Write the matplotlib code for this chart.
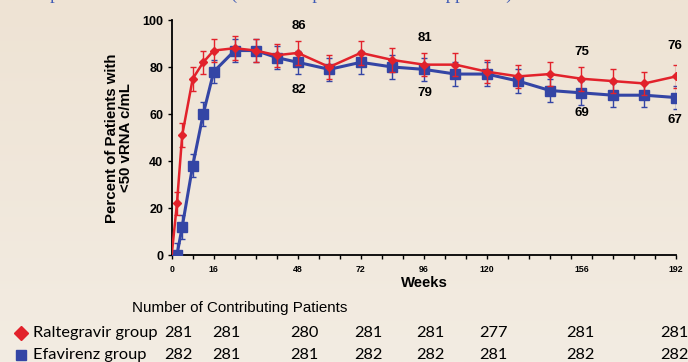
import numpy as np
import matplotlib
matplotlib.use("Agg")
import matplotlib.pyplot as plt
from matplotlib.lines import Line2D

# data
weeks = [0, 2, 4, 8, 12, 16, 24, 32, 40, 48, 60, 72, 84, 96, 108, 120, 132, 144, 156, 168, 180, 192]
ral = [0, 22, 51, 75, 82, 87, 88, 87, 85, 86, 80, 86, 83, 81, 81, 78, 76, 77, 75, 74, 73, 76]
efv = [0, 0, 12, 38, 60, 78, 87, 87, 84, 82, 79, 82, 80, 79, 77, 77, 74, 70, 69, 68, 68, 67]
ral_err = [0, 5, 5, 5, 5, 5, 5, 5, 5, 5, 5, 5, 5, 5, 5, 5, 5, 5, 5, 5, 5, 5]
efv_err = [0, 5, 5, 5, 5, 5, 5, 5, 5, 5, 5, 5, 5, 5, 5, 5, 5, 5, 5, 5, 5, 5]

tick_weeks = [0, 16, 48, 72, 96, 120, 156, 192]

# labelled values (week, value)
ral_labels = [(48, 86), (96, 81), (156, 75), (192, 76)]
efv_labels = [(48, 82), (96, 79), (156, 69), (192, 67)]

groups = ["Raltegravir group", "Efavirenz group"]
ral_n = [281, 281, 280, 281, 281, 277, 281, 281]
efv_n = [282, 281, 281, 282, 282, 281, 282, 282]

RED = "#E2222B"
BLUE = "#3445A5"

W, H = 688, 362
fig = plt.figure(figsize=(W / 100, H / 100), dpi=100)

# soft beige background, a bit darker at the top
bg = fig.add_axes([0, 0, 1, 1], zorder=-10)
top = np.array(matplotlib.colors.to_rgb("#EEE3D4"))
bot = np.array(matplotlib.colors.to_rgb("#F3ECE2"))
t = np.linspace(0, 1, 256)[:, None, None]
grad = top * (1 - t) + bot * t
bg.imshow(np.repeat(grad, 2, axis=1), aspect="auto", extent=[0, 1, 0, 1])
bg.axis("off")

# title sits above the slide crop, only its descenders show
fig.text(22 / W, 1 + 1.5 / H, "Response Rates Over Time (Non-Completer = Failure Approach)",
         family="Liberation Serif", fontsize=13.5, color="#3F5BB5", va="baseline")

ax = fig.add_axes([171.7 / W, 1 - 255 / H, (676 - 171.7) / W, (255 - 20) / H])
ax.set_facecolor("none")

# week 0 has no marker
ax.plot(weeks, efv, color=BLUE, lw=2.2, zorder=3)
ax.errorbar(weeks[1:], efv[1:], yerr=efv_err[1:], fmt="s", color=BLUE, ms=6.5,
            ecolor=BLUE, elinewidth=1, capsize=2.5, capthick=1, zorder=4)
ax.plot(weeks, ral, color=RED, lw=1.8, zorder=5)
ax.errorbar(weeks[1:], ral[1:], yerr=ral_err[1:], fmt="D", color=RED, ms=4.5,
            ecolor=RED, elinewidth=1, capsize=2.5, capthick=1, zorder=6)

# label offsets in points (placement only)
above_off = [(1, 19.5), (0.5, 19), (0, 19.5), (-0.5, 22)]
below_off = [(1, -20), (0.5, -17), (0, -14.5), (-0.5, -16.5)]
for (wk, v), off in zip(ral_labels, above_off):
    ax.annotate(str(v), (wk, v), xytext=off, textcoords="offset points",
                ha="center", va="center", fontsize=9.5, fontweight="bold",
                family="Liberation Sans", annotation_clip=False)
for (wk, v), off in zip(efv_labels, below_off):
    ax.annotate(str(v), (wk, v), xytext=off, textcoords="offset points",
                ha="center", va="center", fontsize=9.5, fontweight="bold",
                family="Liberation Sans", annotation_clip=False)

ax.set_xlim(0, 192)
ax.set_ylim(0, 100)
for s in ["top", "right"]:
    ax.spines[s].set_visible(False)
for s in ["left", "bottom"]:
    ax.spines[s].set_linewidth(1.3)

# labels as major ticks (no mark), tick marks every 8 weeks as minor ticks
ax.xaxis.remove_overlapping_locs = False
ax.set_xticks(tick_weeks)
ax.set_xticklabels([str(w) for w in tick_weeks], fontsize=6.3,
                   fontweight="bold", family="Liberation Sans")
ax.set_xticks(range(0, 193, 8), minor=True)
ax.tick_params(axis="x", which="major", length=0, pad=7)
ax.tick_params(axis="x", which="minor", length=3, width=1)
ax.set_yticks(range(0, 101, 20))
ax.set_yticklabels([str(v) for v in range(0, 101, 20)], fontsize=9,
                   fontweight="bold", family="Liberation Sans")
ax.tick_params(axis="y", length=3, width=1, pad=3)

fig.text(424 / W, 1 - 283 / H, "Weeks", ha="center", va="center", fontsize=10.7,
         fontweight="bold", family="Liberation Sans")
fig.text(119 / W, 1 - 138 / H, "Percent of Patients with\n<50 vRNA c/mL", rotation=90,
         ha="center", va="center", multialignment="center", fontsize=10.8,
         fontweight="bold", family="Liberation Sans", linespacing=1.0)

# patient count table
fig.text(132 / W, 1 - 308 / H, "Number of Contributing Patients", fontsize=10.9,
         family="Liberation Sans", va="center")
col_px = [178, 226, 304, 368, 430, 493, 580, 674]
rows = [(333, RED, "D", 7, groups[0], ral_n), (355, BLUE, "s", 7.5, groups[1], efv_n)]
for y, c, m, ms, name, counts in rows:
    fig.add_artist(Line2D([21 / W], [1 - y / H], marker=m, color=c, ms=ms,
                          transform=fig.transFigure, linestyle="none"))
    fig.text(33 / W, 1 - y / H, name, fontsize=11.8, family="Lato", va="center")
    for x, n in zip(col_px, counts):
        fig.text(x / W, 1 - y / H, str(n), fontsize=11.8, family="Lato",
                 ha="center", va="center")

fig.savefig("out.png", dpi=100)
